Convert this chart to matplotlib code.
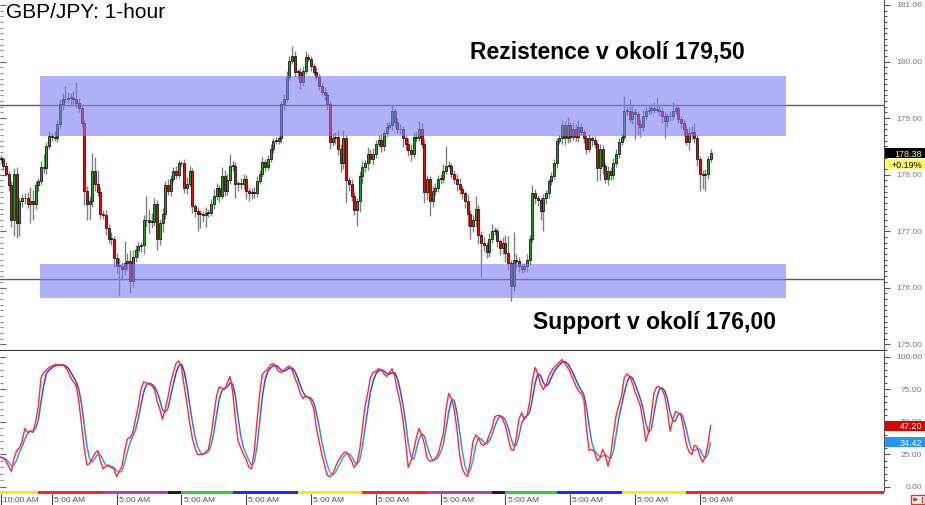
"""GBP/JPY 1-hour candles with resistance/support zones and stochastic panel.

Output: out.png (925x506)
"""

import matplotlib
matplotlib.use("Agg")
import matplotlib.pyplot as plt
import matplotlib.patches as mpatches
import matplotlib.transforms as mtransforms
from matplotlib.collections import LineCollection
from matplotlib.colors import LinearSegmentedColormap
import numpy as np
import pandas as pd

plt.rcParams["font.family"] = ["Liberation Sans", "DejaVu Sans"]

# ---- data: hourly candles, 12 per row -------------------------------------
FIRST_OPEN = 178.30
CLOSES = [
    178.28, 178.16, 178.02, 177.81, 177.19, 178.02, 177.14, 177.54, 177.58, 177.58, 177.49, 177.53,
    177.49, 177.81, 177.88, 178.14, 178.11, 178.51, 178.69, 178.67, 178.64, 178.90, 179.25, 179.33,
    179.34, 179.36, 179.36, 179.33, 179.27, 179.17, 178.92, 177.72, 177.49, 177.53, 178.06, 177.84,
    177.70, 177.31, 177.28, 177.05, 176.87, 176.86, 176.52, 176.38, 176.38, 176.33, 176.43, 176.47,
    176.12, 176.54, 176.66, 176.73, 176.75, 177.19, 177.19, 177.16, 177.17, 177.49, 176.87, 177.14,
    177.31, 177.81, 177.72, 177.93, 178.06, 178.00, 178.20, 178.20, 177.76, 177.84, 178.06, 177.44,
    177.35, 177.31, 177.31, 177.28, 177.33, 177.33, 177.49, 177.63, 177.76, 177.63, 177.98, 177.72,
    177.90, 178.16, 178.16, 177.84, 177.83, 177.84, 177.93, 177.72, 177.67, 177.70, 177.67, 177.88,
    178.02, 178.23, 178.14, 178.28, 178.46, 178.60, 178.60, 178.64, 179.25, 179.34, 179.73, 180.01,
    180.10, 179.82, 179.82, 179.64, 179.84, 180.08, 180.05, 179.92, 179.82, 179.73, 179.57, 179.47,
    179.40, 179.25, 178.58, 178.64, 178.67, 178.46, 178.20, 178.64, 177.90, 177.84, 177.63, 177.37,
    177.54, 177.98, 178.14, 178.20, 178.37, 178.28, 178.37, 178.55, 178.62, 178.50, 178.73, 178.85,
    178.87, 179.13, 178.94, 178.80, 178.81, 178.64, 178.55, 178.43, 178.37, 178.67, 178.64, 178.81,
    178.55, 177.70, 177.93, 177.53, 177.72, 177.76, 177.93, 177.93, 178.07, 178.16, 178.16, 178.02,
    177.93, 177.84, 177.74, 177.67, 177.53, 177.30, 177.09, 177.19, 177.40, 176.93, 176.79, 176.75,
    176.64, 176.87, 177.00, 177.00, 176.82, 176.70, 176.79, 176.61, 176.43, 176.04, 176.49, 176.47,
    176.38, 176.34, 176.38, 176.49, 176.87, 177.67, 177.58, 177.56, 177.35, 177.58, 177.67, 177.88,
    177.98, 178.20, 178.60, 178.65, 178.87, 178.64, 178.87, 178.67, 178.81, 178.67, 178.85, 178.76,
    178.64, 178.46, 178.64, 178.62, 178.55, 178.11, 178.46, 178.16, 177.93, 178.07, 178.00, 178.20,
    178.37, 178.58, 178.67, 179.13, 179.13, 178.99, 179.11, 179.08, 178.90, 178.85, 179.04, 179.13,
    179.15, 179.17, 179.15, 179.15, 179.13, 179.03, 178.95, 179.03, 179.03, 179.13, 179.17, 178.99,
    178.92, 178.80, 178.58, 178.73, 178.76, 178.64, 178.28, 178.02, 178.00, 178.02, 178.28, 178.38,
]
UPPER_WICK = [
    0.05, 0.04, 0.06, 0.05, 0.08, 0.10, 0.12, 0.06, 0.08, 0.10, 0.12, 0.25,
    0.20, 0.08, 0.06, 0.10, 0.23, 0.06, 0.08, 0.05, 0.10, 0.06, 0.08, 0.12,
    0.22, 0.10, 0.08, 0.12, 0.30, 0.08, 0.06, 0.05, 0.08, 0.10, 0.32, 0.25,
    0.25, 0.08, 0.06, 0.10, 0.08, 0.12, 0.06, 0.10, 0.15, 0.08, 0.39, 0.15,
    0.20, 0.12, 0.10, 0.08, 0.06, 0.10, 0.44, 0.20, 0.15, 0.10, 0.06, 0.08,
    0.10, 0.08, 0.12, 0.06, 0.08, 0.10, 0.06, 0.05, 0.08, 0.12, 0.10, 0.06,
    0.05, 0.08, 0.06, 0.05, 0.10, 0.06, 0.08, 0.12, 0.10, 0.06, 0.15, 0.10,
    0.12, 0.21, 0.08, 0.06, 0.05, 0.10, 0.08, 0.06, 0.05, 0.06, 0.08, 0.10,
    0.06, 0.08, 0.05, 0.06, 0.08, 0.05, 0.06, 0.04, 0.06, 0.08, 0.10, 0.08,
    0.18, 0.08, 0.05, 0.06, 0.08, 0.10, 0.06, 0.05, 0.06, 0.08, 0.06, 0.05,
    0.08, 0.06, 0.05, 0.10, 0.08, 0.12, 0.08, 0.15, 0.06, 0.05, 0.08, 0.06,
    0.05, 0.08, 0.10, 0.06, 0.12, 0.08, 0.10, 0.06, 0.08, 0.10, 0.06, 0.08,
    0.06, 0.10, 0.05, 0.06, 0.08, 0.05, 0.06, 0.10, 0.12, 0.08, 0.10, 0.14,
    0.10, 0.08, 0.06, 0.05, 0.08, 0.10, 0.06, 0.08, 0.12, 0.35, 0.08, 0.05,
    0.06, 0.08, 0.10, 0.06, 0.05, 0.12, 0.08, 0.10, 0.23, 0.06, 0.08, 0.10,
    0.06, 0.10, 0.12, 0.08, 0.06, 0.05, 0.10, 0.15, 0.30, 0.06, 0.50, 0.10,
    0.08, 0.06, 0.05, 0.10, 0.06, 0.15, 0.08, 0.06, 0.05, 0.08, 0.06, 0.05,
    0.06, 0.08, 0.05, 0.06, 0.10, 0.08, 0.15, 0.06, 0.10, 0.08, 0.12, 0.06,
    0.05, 0.06, 0.08, 0.05, 0.06, 0.05, 0.08, 0.06, 0.05, 0.08, 0.06, 0.10,
    0.08, 0.06, 0.05, 0.26, 0.08, 0.20, 0.10, 0.06, 0.05, 0.08, 0.10, 0.06,
    0.08, 0.10, 0.12, 0.22, 0.10, 0.06, 0.08, 0.06, 0.10, 0.15, 0.08, 0.06,
    0.05, 0.06, 0.08, 0.12, 0.10, 0.15, 0.06, 0.05, 0.06, 0.08, 0.05, 0.07,
]
LOWER_WICK = [
    0.06, 0.08, 0.05, 0.10, 0.12, 0.28, 0.26, 0.23, 0.12, 0.10, 0.08, 0.35,
    0.30, 0.10, 0.12, 0.06, 0.08, 0.10, 0.06, 0.08, 0.05, 0.06, 0.08, 0.10,
    0.06, 0.08, 0.12, 0.08, 0.10, 0.06, 0.08, 0.25, 0.30, 0.30, 0.10, 0.12,
    0.08, 0.10, 0.06, 0.12, 0.08, 0.10, 0.15, 0.12, 0.53, 0.20, 0.10, 0.12,
    0.21, 0.10, 0.08, 0.12, 0.10, 0.15, 0.12, 0.20, 0.10, 0.08, 0.21, 0.12,
    0.15, 0.10, 0.08, 0.10, 0.06, 0.08, 0.06, 0.05, 0.08, 0.10, 0.06, 0.12,
    0.10, 0.30, 0.25, 0.12, 0.20, 0.08, 0.06, 0.10, 0.08, 0.12, 0.06, 0.10,
    0.08, 0.06, 0.10, 0.25, 0.12, 0.08, 0.10, 0.15, 0.14, 0.10, 0.08, 0.06,
    0.05, 0.06, 0.08, 0.05, 0.06, 0.08, 0.06, 0.05, 0.08, 0.10, 0.06, 0.05,
    0.06, 0.10, 0.12, 0.12, 0.08, 0.06, 0.05, 0.08, 0.06, 0.05, 0.08, 0.06,
    0.08, 0.10, 0.12, 0.08, 0.10, 0.12, 0.15, 0.10, 0.40, 0.12, 0.10, 0.08,
    0.28, 0.20, 0.15, 0.10, 0.12, 0.08, 0.10, 0.08, 0.06, 0.10, 0.08, 0.06,
    0.05, 0.08, 0.10, 0.06, 0.08, 0.15, 0.12, 0.10, 0.12, 0.08, 0.06, 0.05,
    0.08, 0.20, 0.15, 0.26, 0.10, 0.08, 0.06, 0.10, 0.08, 0.06, 0.05, 0.08,
    0.10, 0.12, 0.08, 0.10, 0.12, 0.20, 0.22, 0.10, 0.12, 0.15, 0.60, 0.10,
    0.12, 0.10, 0.08, 0.06, 0.10, 0.12, 0.10, 0.15, 0.12, 0.28, 0.10, 0.12,
    0.10, 0.08, 0.06, 0.10, 0.08, 0.06, 0.10, 0.12, 0.15, 0.35, 0.10, 0.08,
    0.06, 0.05, 0.08, 0.06, 0.10, 0.12, 0.08, 0.10, 0.06, 0.08, 0.10, 0.06,
    0.08, 0.10, 0.06, 0.12, 0.08, 0.22, 0.20, 0.15, 0.08, 0.12, 0.10, 0.08,
    0.06, 0.08, 0.05, 0.06, 0.08, 0.06, 0.10, 0.45, 0.20, 0.18, 0.08, 0.06,
    0.05, 0.08, 0.06, 0.05, 0.10, 0.12, 0.30, 0.10, 0.08, 0.06, 0.05, 0.08,
    0.10, 0.12, 0.06, 0.15, 0.10, 0.08, 0.12, 0.30, 0.25, 0.28, 0.10, 0.06,
]
# stochastic %K (the signal line %D is its 3-bar average)
STOCH_K = [
    23, 22, 20, 16, 12, 22, 28, 30, 35, 45, 42, 43,
    42, 50, 62, 84, 88, 90, 92, 93, 94, 94, 94, 94,
    92, 89, 84, 81, 78, 66, 48, 30, 17, 18, 22, 26,
    28, 20, 14, 16, 17, 15, 14, 8, 12, 16, 28, 37,
    38, 42, 52, 62, 75, 81, 80, 79, 78, 75, 66, 60,
    52, 60, 69, 80, 88, 95, 97, 92, 78, 65, 50, 38,
    30, 25, 25, 25, 27, 29, 40, 55, 70, 77, 76, 75,
    80, 85, 73, 52, 35, 30, 25, 21, 15, 14, 28, 51,
    72, 87, 89, 91, 94, 95, 92, 89, 88, 90, 92, 93,
    90, 84, 79, 72, 68, 70, 69, 66, 60, 45, 35, 25,
    17, 9, 8, 10, 15, 20, 23, 26, 27, 24, 20, 15,
    18, 28, 45, 62, 72, 84, 88, 89, 91, 90, 87, 85,
    88, 91, 85, 74, 65, 52, 35, 15, 20, 28, 38, 45,
    40, 33, 22, 20, 20, 22, 25, 33, 41, 60, 72, 68,
    60, 45, 25, 14, 10, 8, 20, 35, 40, 38, 33, 32,
    34, 40, 45, 54, 55, 55, 52, 47, 38, 29, 28, 38,
    52, 57, 52, 55, 66, 82, 92, 87, 79, 75, 78, 85,
    89, 92, 94, 96, 98, 95, 92, 88, 83, 78, 74, 72,
    68, 45, 28, 29, 27, 20, 22, 29, 24, 16, 25, 41,
    55, 63, 70, 84, 87, 85, 80, 73, 68, 62, 50, 35,
    42, 55, 72, 77, 77, 75, 70, 58, 43, 52, 58, 57,
    55, 45, 33, 27, 25, 32, 31, 24, 19, 23, 33.06, 47.2,
]
DAY_CHANGE = "+0.19%"

RES_LEVEL = 179.23
RES_ZONE = (178.68, 179.75)
SUP_LEVEL = 176.16
SUP_ZONE = (175.82, 176.42)
ZONE_SPAN = (14.6, 290.9)          # candle index range covered by the zones

DAY_EDGES = [-1, 14, 38, 62, 67, 86, 110, 134, 158, 182, 187, 206, 230, 254, 330]
DAY_COLORS = ["#f0f000", "#ff2020", "#b040b8", "#202020", "#30d030", "#2828f0", "#f0f000",
              "#ff2020", "#b040b8", "#202020", "#30d030", "#2828f0", "#f0f000", "#ff2020"]
TIME_TICKS = [0, 19, 43, 67, 91, 115, 139, 163, 187, 211, 235, 259]
TIME_LABELS = ["10:00 AM"] + ["5:00 AM"] * 11
PRICE_TICKS = [175, 176, 177, 178, 179, 180, 181]
STOCH_TICKS = [0, 25, 50, 75, 100]

# ---- layout (pixels) -------------------------------------------------------
W, H = 925, 506
AX_RIGHT = 884
XLIM = (-0.19, 327.2)
GREEN, RED, WICK = "#22a022", "#ff0000", "#808080"
AXIS_GRAY, LABEL_GRAY = "#555555", "#7a7a7a"


def fy(y):
    return 1 - y / H


def right_axis(fig, ax, major, minor, fmt):
    ax.set_yticks(major)
    ax.set_yticks(minor, minor=True)
    ax.tick_params(axis="y", which="both", left=False, right=True,
                   labelleft=False, labelright=False, direction="out",
                   color=AXIS_GRAY, width=0.8)
    ax.tick_params(axis="y", which="major", length=4)
    ax.tick_params(axis="y", which="minor", length=2.5)
    lo, hi = ax.get_ylim()
    # inward ticks along the left edge
    left = mtransforms.blended_transform_factory(ax.transAxes, ax.transData)
    ax.hlines([m for m in minor if lo < m < hi], 0, 3 / AX_RIGHT, transform=left,
              color="#888888", lw=0.8, clip_on=False)
    ax.hlines([m for m in major if lo < m < hi], 0, 6 / AX_RIGHT, transform=left,
              color="#666666", lw=0.8, clip_on=False)
    lab = mtransforms.blended_transform_factory(fig.transFigure, ax.transData)
    for v in major:
        ax.text(922 / W, v, fmt.format(v), transform=lab, ha="right", va="center",
                fontsize=6, color=LABEL_GRAY, clip_on=False)


def tag(fig, ax, value, text, face, fg, dy=0.0):
    y = (ax.transData.transform((0, value))[1] - dy) / fig.bbox.height
    fig.add_artist(mpatches.Rectangle((885 / W, y - 5 / H), 40 / W, 10 / H,
                                      transform=fig.transFigure, facecolor=face,
                                      edgecolor="none", zorder=10))
    fig.text(922 / W, y, text, ha="right", va="center", fontsize=6.5,
             color=fg, zorder=11)


def panel_price(fig, ax):
    c = np.array(CLOSES)
    o = np.r_[FIRST_OPEN, c[:-1]]
    x = np.arange(len(c))
    top = np.maximum(o, c)
    bot = np.minimum(o, c)
    high = top + np.array(UPPER_WICK)
    low = bot - np.array(LOWER_WICK)

    ax.set_xlim(*XLIM)
    ax.set_ylim(174.916, 181.106)
    ax.set_xticks([])

    ax.axhline(RES_LEVEL, color="#5c5c66", lw=1, zorder=1)
    ax.axhline(SUP_LEVEL, color="#5c5c66", lw=1, zorder=1)
    ax.vlines(x, low, high, color=WICK, lw=1, zorder=2)
    ax.bar(x, np.maximum(top - bot, 0.015), bottom=bot, width=0.75,
           color=np.where(c >= o, GREEN, RED), edgecolor="black", lw=0.5, zorder=3)

    for z0, z1 in (RES_ZONE, SUP_ZONE):
        ax.add_patch(mpatches.Rectangle((ZONE_SPAN[0], z0), ZONE_SPAN[1] - ZONE_SPAN[0],
                                        z1 - z0, facecolor="#7e7ef6", alpha=0.6,
                                        lw=0, zorder=4))

    for s in ("top", "left"):
        ax.spines[s].set_visible(False)
    ax.spines["right"].set_color(AXIS_GRAY)
    ax.spines["bottom"].set_color("#333333")
    right_axis(fig, ax, PRICE_TICKS, list(np.arange(174.9, 181.15, 0.1).round(1)), "{:.2f}")

    tag(fig, ax, c[-1], f"{c[-1]:.2f}", "black", "#ffff00")
    tag(fig, ax, c[-1], DAY_CHANGE, "#ffff60", "black", dy=11)


def panel_stoch(fig, ax):
    k = np.array(STOCH_K, dtype=float)
    d = pd.Series(k).rolling(3, min_periods=1).mean().to_numpy()
    x = np.arange(len(k))

    ax.set_xlim(*XLIM)
    ax.set_ylim(-3.1, 104.6)
    ax.set_xticks([])

    cmap = LinearSegmentedColormap.from_list("stoch", ["#45b4ff", "#2b2be0"])
    pts = np.column_stack([x, d]).reshape(-1, 1, 2)
    segs = np.concatenate([pts[:-1], pts[1:]], axis=1)
    lc = LineCollection(segs, colors=cmap((d[:-1] + d[1:]) / 200), lw=1.1, zorder=3)
    ax.add_collection(lc)
    ax.plot(x, k, color="#ff2a2a", lw=1.0, zorder=4)

    for s in ("top", "left", "bottom"):
        ax.spines[s].set_visible(False)
    ax.spines["right"].set_color(AXIS_GRAY)
    right_axis(fig, ax, STOCH_TICKS, list(range(0, 105, 5)), "{:.2f}")

    tag(fig, ax, k[-1], f"{k[-1]:.2f}", "#dd0000", "white")
    tag(fig, ax, d[-1], f"{d[-1]:.2f}", "#2196ff", "white")


def time_bar(fig, ax):
    ax.set_xlim(*XLIM)
    ax.set_ylim(0, 1)
    ax.axis("off")
    for a, b, col in zip(DAY_EDGES[:-1], DAY_EDGES[1:], DAY_COLORS):
        ax.axvspan(a, b, color=col, lw=0)
    tr = mtransforms.blended_transform_factory(ax.transData, fig.transFigure)
    ax.vlines(TIME_TICKS, fy(506), fy(495), transform=tr, color="#444444",
              lw=0.8, clip_on=False)
    for t, lab in zip(TIME_TICKS, TIME_LABELS):
        fig.text(t + 0.8, fy(500.5), lab, transform=tr, ha="left", va="center",
                 fontsize=6, color="#505050")


def main():
    fig = plt.figure(figsize=(W / 100, H / 100), dpi=100)
    ax_p = fig.add_axes([0, fy(351), AX_RIGHT / W, 351 / H])
    ax_s = fig.add_axes([0, fy(492), AX_RIGHT / W, 140 / H])
    ax_t = fig.add_axes([0, fy(495), AX_RIGHT / W, 3 / H])

    panel_price(fig, ax_p)
    panel_stoch(fig, ax_s)
    time_bar(fig, ax_t)

    fig.text(6 / W, fy(18.5), "GBP/JPY: 1-hour", fontsize=15, va="baseline")
    fig.text(470 / W, fy(59), "Rezistence v okolí 179,50", fontsize=16.5,
             fontweight="bold", va="baseline")
    fig.text(533 / W, fy(329), "Support v okolí 176,00", fontsize=16.5,
             fontweight="bold", va="baseline")

    # scroll-to-end button, bottom right
    fig.add_artist(mpatches.Rectangle((911 / W, fy(505)), 14 / W, 9 / H,
                                      transform=fig.transFigure, facecolor="white",
                                      edgecolor="#e03030", lw=1))
    fig.add_artist(mpatches.FancyArrowPatch((913 / W, fy(500.5)), (921 / W, fy(500.5)),
                                            transform=fig.transFigure, arrowstyle="-|>",
                                            mutation_scale=5, color="#e03030", lw=1))
    fig.add_artist(plt.Line2D([922 / W, 922 / W], [fy(503), fy(498)],
                              transform=fig.transFigure, color="#e03030", lw=1))

    fig.savefig("out.png", dpi=100)


if __name__ == "__main__":
    main()
